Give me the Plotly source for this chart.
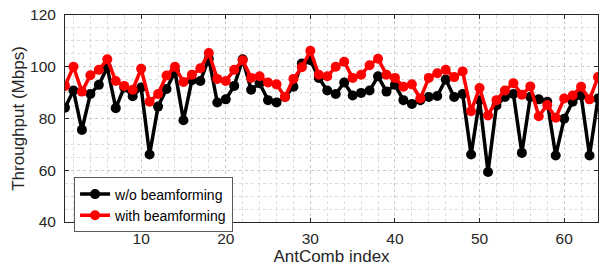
import plotly.graph_objects as go

ant_index = list(range(1, 65))
wo_beamforming = [84.2, 90.8, 75.6, 89.5, 93.0, 99.7, 84.0, 92.0, 88.6, 92.0,
                  66.1, 84.6, 91.4, 98.2, 79.3, 94.8, 94.5, 103.1, 86.2, 87.4,
                  92.6, 102.9, 91.1, 93.6, 87.1, 86.2, 88.3, 92.3, 101.3, 102.5,
                  95.7, 90.8, 89.5, 93.9, 88.9, 89.9, 90.8, 96.3, 90.4, 93.0,
                  87.1, 85.6, 87.1, 88.3, 88.7, 95.1, 88.3, 89.5, 66.1, 87.1,
                  59.3, 85.0, 88.3, 89.5, 66.7, 88.3, 87.4, 86.5, 65.7, 79.9,
                  86.5, 88.9, 65.7, 87.7]
with_beamforming = [92.6, 100.0, 90.4, 96.7, 98.8, 102.9, 94.5, 92.6, 91.1, 99.2,
                    86.5, 89.5, 96.6, 100.0, 94.1, 96.9, 99.4, 105.3, 95.3, 94.5,
                    98.8, 102.5, 95.7, 96.3, 93.9, 93.2, 88.3, 95.3, 99.8, 106.2,
                    96.9, 96.3, 100.0, 101.9, 95.7, 96.9, 100.6, 103.1, 96.9, 95.7,
                    92.3, 93.2, 87.7, 95.7, 97.5, 98.8, 96.0, 98.2, 82.8, 91.8,
                    81.2, 87.1, 90.8, 93.6, 89.2, 92.4, 80.9, 85.2, 80.3, 87.7,
                    88.9, 92.3, 87.4, 96.0]
x_ticks = [10, 20, 30, 40, 50, 60]
y_ticks = [40, 60, 80, 100, 120]

FONT = "Liberation Sans, Arial, sans-serif"

fig = go.Figure()
fig.add_trace(go.Scatter(x=ant_index, y=wo_beamforming, mode="lines+markers",
                         name="w/o beamforming",
                         line=dict(color="black", width=3.5),
                         marker=dict(color="black", size=10)))
fig.add_trace(go.Scatter(x=ant_index, y=with_beamforming, mode="lines+markers",
                         name="with beamforming",
                         line=dict(color="#ff0000", width=3.5),
                         marker=dict(color="#ff0000", size=10)))

axis_common = dict(showline=True, linecolor="#262626", linewidth=1, mirror="ticks",
                   ticks="inside", ticklen=4, tickcolor="#262626",
                   showgrid=True, gridcolor="#c8c8c8", griddash="dot", gridwidth=1,
                   zeroline=False, ticklabeloverflow="allow",
                   tickfont=dict(family=FONT, size=15.5, color="#262626"))

fig.update_xaxes(range=[1, 64], tickvals=x_ticks, ticklabelstandoff=2,
                 title=dict(text="AntComb index", font=dict(family=FONT, size=17, color="#262626"), standoff=2),
                 minor=dict(dtick=2, tick0=0, showgrid=True, gridcolor="#dcdcdc", griddash="dot", ticks=""),
                 **axis_common)
fig.update_yaxes(range=[40, 120], tickvals=y_ticks, ticklabelstandoff=5,
                 title=dict(text="Throughput (Mbps)", font=dict(family=FONT, size=17, color="#262626"), standoff=1),
                 minor=dict(dtick=5, tick0=0, showgrid=True, gridcolor="#dcdcdc", griddash="dot", ticks=""),
                 **axis_common)

fig.update_layout(width=605, height=271, margin=dict(l=65, r=6, t=6, b=49),
                  plot_bgcolor="white", paper_bgcolor="white",
                  showlegend=True,
                  legend=dict(x=0.017, y=0.215, xanchor="left", yanchor="top",
                              bgcolor="white", bordercolor="#5a5a5a", borderwidth=1,
                              font=dict(family=FONT, size=14, color="black"),
                              tracegroupgap=0, itemwidth=30))

fig.write_html("out.html", config={"displayModeBar": False},
               post_script="document.body.style.margin='0';document.body.style.padding='0';")
